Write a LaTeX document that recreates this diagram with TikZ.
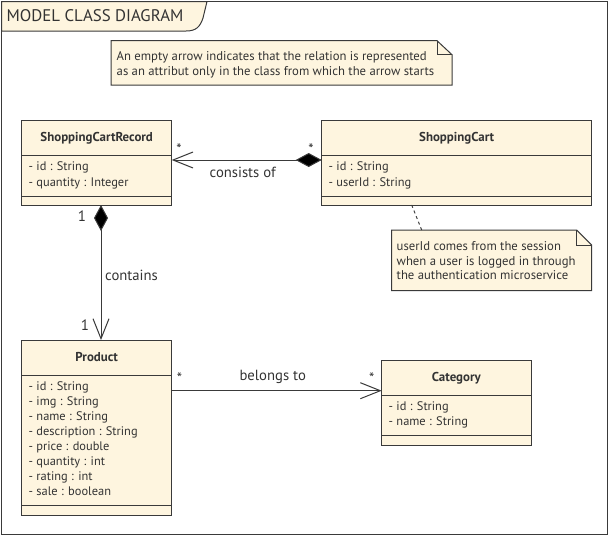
\documentclass[tikz,border=0pt]{standalone}
\usepackage{fontspec}
\setmainfont{PT Sans}
\usetikzlibrary{arrows.meta,calc,backgrounds}
\definecolor{cream}{HTML}{FEF5DF}
\definecolor{ink}{HTML}{3A3A3A}
\definecolor{txt}{HTML}{333333}
\begin{document}
\begin{tikzpicture}[x=1pt,y=-1pt,
  box/.style={draw=ink,fill=cream,line width=1pt,rectangle,anchor=north west,inner sep=0pt,outer sep=0pt},
  sep/.style={draw=ink,line width=1pt},
  cname/.style={font=\fontsize{12.9}{14}\selectfont\bfseries,text=txt,anchor=mid,inner sep=0pt,yshift=-1.5pt},
  attr/.style={font=\fontsize{12.4}{14}\selectfont,text=txt,anchor=mid west,inner sep=0pt,yshift=-1.5pt},
  lbl/.style={font=\fontsize{14.7}{16}\selectfont,text=txt,inner sep=0pt,yshift=-1.5pt},
  mult/.style={font=\fontsize{15}{16}\selectfont,text=txt,inner sep=0pt,anchor=mid},
  edge/.style={draw=ink,line width=1pt},
  notebox/.style={rectangle,anchor=north west,inner sep=0pt,outer sep=0pt},
  notetext/.style={font=\fontsize{12.7}{15}\selectfont,text=txt,anchor=mid west,inner sep=0pt,yshift=-1.5pt},
  notefold/.style={draw=ink,fill=cream,line width=1pt,line join=miter},
  opentip/.tip={Straight Barb[length=20pt,width=16pt]},
  diam/.tip={Diamond[length=26pt,width=14pt,fill=black]},
]
\useasboundingbox (0,0) rectangle (612,536);
% frame
\draw[ink,line width=1pt] (1.5,1.5) rectangle (607,534);
% title tab
\filldraw[fill=cream,draw=ink,line width=1pt] (1.5,1.5) -- (207,1.5) -- (203,18) .. controls (200,27) and (196,31) .. (186,31) -- (1.5,31) -- cycle;
\node[anchor=mid west,inner sep=0pt,text=txt,font=\fontsize{16.8}{18}\selectfont] (title) at (6.5,18.5) {MODEL CLASS DIAGRAM};

% note 1
\node[notebox,minimum width=341pt,minimum height=44.3pt] (note1) at (111,40.7) {};
\draw[notefold] (note1.north west) -- ([xshift=-15pt]note1.north east) -- ([yshift=-14pt]note1.north east) -- (note1.south east) -- (note1.south west) -- cycle;
\draw[ink,line width=1pt] ([xshift=-15pt]note1.north east) -- ([xshift=-15pt,yshift=-14pt]note1.north east) -- ([yshift=-14pt]note1.north east);
\node[notetext] (n1a) at (116.5,56) {An empty arrow indicates that the relation is represented};
\node[notetext] (n1b) at (116.5,71) {as an attribut only in the class from which the arrow starts};

% ShoppingCartRecord
\node[box,minimum width=150pt,minimum height=84.3pt] (scr) at (21.7,120.7) {};
\draw[sep] (scr.west |- 0,155) -- (scr.east |- 0,155);
\draw[sep] (scr.west |- 0,196) -- (scr.east |- 0,196);
\node[cname] (scrt) at (96.7,137.5) {ShoppingCartRecord};
\node[attr] (scr1) at (28.5,166.7) {- id : String};
\node[attr] (scr2) at (28.5,182) {- quantity : Integer};

% ShoppingCart
\node[box,minimum width=270pt,minimum height=84.3pt] (sc) at (321.7,120.7) {};
\draw[sep] (sc.west |- 0,155) -- (sc.east |- 0,155);
\draw[sep] (sc.west |- 0,196) -- (sc.east |- 0,196);
\node[cname] (sct) at (456.7,137.5) {ShoppingCart};
\node[attr] (sc1) at (328.5,166.7) {- id : String};
\node[attr] (sc2) at (328.5,182) {- userId : String};

% note 2
\node[notebox,minimum width=200pt,minimum height=60.7pt] (note2) at (391.7,230) {};
\draw[notefold] (note2.north west) -- ([xshift=-15pt]note2.north east) -- ([yshift=-15pt]note2.north east) -- (note2.south east) -- (note2.south west) -- cycle;
\draw[ink,line width=1pt] ([xshift=-15pt]note2.north east) -- ([xshift=-15pt,yshift=-15pt]note2.north east) -- ([yshift=-15pt]note2.north east);
\node[notetext] (n2a) at (396.5,246) {userId comes from the session};
\node[notetext] (n2b) at (396.5,261) {when a user is logged in through};
\node[notetext] (n2c) at (396.5,275.7) {the authentication microservice};
\draw[ink,line width=1pt,dash pattern=on 3pt off 3pt] ($(sc.south)+(-45,0)$) -- ($(note2.north)+(-70,0)$);

% Product
\node[box,minimum width=150pt,minimum height=175pt] (prod) at (21.7,340) {};
\draw[sep] (prod.west |- 0,375) -- (prod.east |- 0,375);
\draw[sep] (prod.west |- 0,505) -- (prod.east |- 0,505);
\node[cname] (prodt) at (96.7,357.3) {Product};
\node[attr] (p1) at (28.5,386.7) {- id : String};
\node[attr] (p2) at (28.5,401.7) {- img : String};
\node[attr] (p3) at (28.5,416.7) {- name : String};
\node[attr] (p4) at (28.5,431.5) {- description : String};
\node[attr] (p5) at (28.5,446.7) {- price : double};
\node[attr] (p6) at (28.5,461.7) {- quantity : int};
\node[attr] (p7) at (28.5,476.7) {- rating : int};
\node[attr] (p8) at (28.5,491.7) {- sale : boolean};

% Category
\node[box,minimum width=149.3pt,minimum height=84.6pt] (cat) at (381.7,360.7) {};
\draw[sep] (cat.west |- 0,395) -- (cat.east |- 0,395);
\draw[sep] (cat.west |- 0,435.7) -- (cat.east |- 0,435.7);
\node[cname] (catt) at (456.3,377.7) {Category};
\node[attr] (c1) at (388.5,406.7) {- id : String};
\node[attr] (c2) at (388.5,421.7) {- name : String};

% consists of
\draw[edge,{opentip}-{diam}] (scr.east |- 0,160) -- (sc.west |- 0,160);
\node[lbl,anchor=mid] (lco) at (242.7,173) {consists of};
\node[mult] (m1) at (179,152) {*};
\node[mult] (m2) at (311,152) {*};

% contains
\draw[edge,{diam}-{opentip}] (scr.south -| 101,0) -- (prod.north -| 101,0);
\node[lbl,anchor=mid west] (lct) at (105,276) {contains};
\node[mult] (m3) at (82,219) {1};
\node[mult] (m4) at (85,328) {1};

% belongs to
\draw[edge,-{opentip}] (prod.east |- 0,390.7) -- (cat.west |- 0,390.7);
\node[lbl,anchor=mid] (lbt) at (272.7,376) {belongs to};
\node[mult] (m5) at (179.5,381) {*};
\node[mult] (m6) at (371.7,381) {*};
\end{tikzpicture}
\end{document}
